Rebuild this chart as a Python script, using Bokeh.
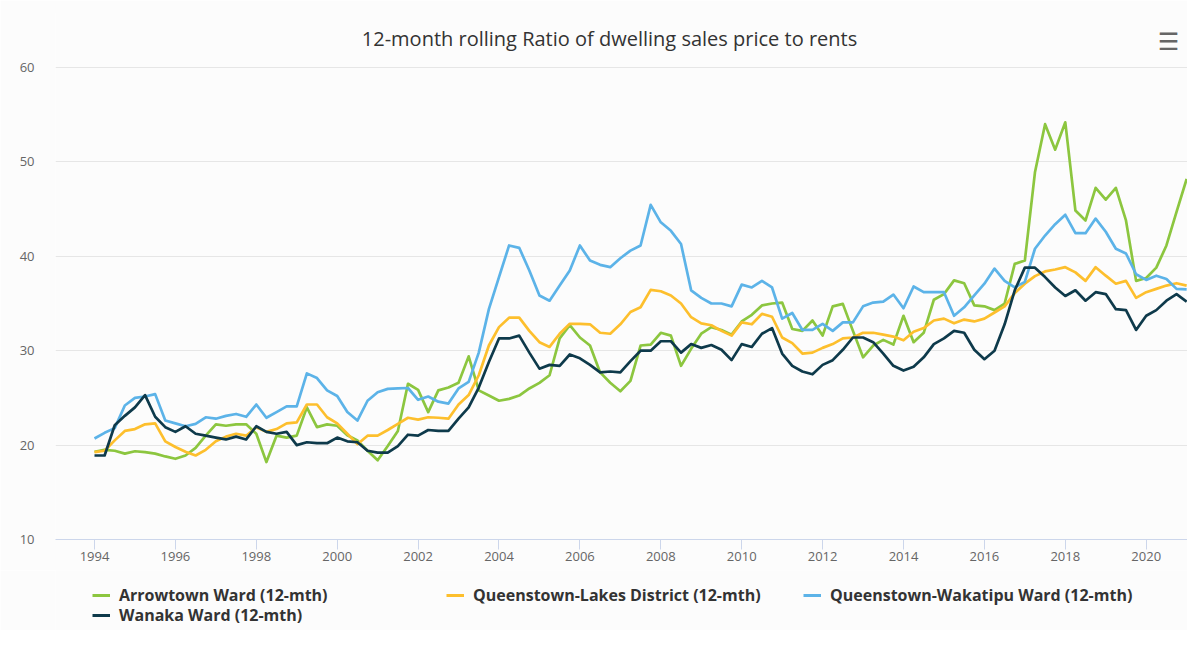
from bokeh.plotting import figure
from bokeh.layouts import column
from bokeh.models import Legend, LegendItem, FixedTicker, Range1d, Label
from bokeh.embed import file_html
from bokeh.resources import INLINE

# Quarterly observations, 1994 Q1 .. 2021 Q1
quarters = [1994 + q / 4 for q in range(109)]
tick_years = list(range(1994, 2021, 2))
y_ticks = [10, 20, 30, 40, 50, 60]

arrowtown = [19.3, 19.5, 19.4, 19.1, 19.35, 19.25, 19.1, 18.8, 18.55, 18.9,
             19.7, 21.0, 22.2, 22.05, 22.2, 22.2, 21.2, 18.2, 21.0, 20.8,
             21.0, 24.0, 21.9, 22.2, 22.05, 21.05, 20.5, 19.4, 18.4, 19.9,
             21.5, 26.5, 25.85, 23.5, 25.8, 26.1, 26.6, 29.4, 25.8, 25.25,
             24.7, 24.9, 25.25, 26.0, 26.6, 27.4, 31.3, 32.7, 31.4, 30.55,
             27.7, 26.6, 25.7, 26.8, 30.55, 30.65, 31.9, 31.6, 28.4, 30.2,
             31.8, 32.5, 32.2, 31.7, 33.1, 33.8, 34.8, 35.0, 35.1, 32.3,
             32.1, 33.2, 31.6, 34.7, 34.96, 32.1, 29.3, 30.55, 31.15, 30.65,
             33.7, 30.9, 31.9, 35.4, 36.0, 37.45, 37.15, 34.8, 34.7, 34.3,
             35.0, 39.2, 39.55, 48.9, 54.0, 51.3, 54.2, 44.85, 43.8, 47.25,
             46.0, 47.25, 43.8, 37.4, 37.7, 38.8, 41.15, 44.7, 48.2]

ql_district = [19.25, 19.4, 20.5, 21.5, 21.7, 22.2, 22.3, 20.4, 19.8, 19.3,
               18.9, 19.5, 20.4, 20.9, 21.2, 21.0, 21.9, 21.4, 21.7, 22.3,
               22.4, 24.3, 24.3, 22.95, 22.3, 21.2, 20.1, 21.0, 21.0, 21.6,
               22.25, 22.9, 22.7, 22.95, 22.9, 22.8, 24.3, 25.3, 27.4, 30.55,
               32.5, 33.5, 33.5, 32.1, 30.9, 30.4, 31.8, 32.85, 32.85, 32.8,
               31.9, 31.8, 32.8, 34.1, 34.6, 36.45, 36.3, 35.85, 35.0, 33.55,
               32.9, 32.7, 32.1, 31.6, 33.0, 32.8, 33.9, 33.6, 31.4, 30.8,
               29.7, 29.8, 30.3, 30.7, 31.3, 31.4, 31.9, 31.9, 31.7, 31.5,
               31.1, 32.0, 32.4, 33.2, 33.4, 32.9, 33.3, 33.1, 33.4, 34.05,
               34.7, 36.1, 37.1, 37.9, 38.4, 38.6, 38.85, 38.3, 37.4, 38.85,
               37.95, 37.1, 37.4, 35.6, 36.2, 36.55, 36.9, 37.15, 36.9]

wakatipu = [20.7, 21.3, 21.8, 24.2, 25.0, 25.15, 25.4, 22.6, 22.3, 22.0,
            22.25, 22.95, 22.8, 23.1, 23.3, 23.0, 24.3, 22.9, 23.5, 24.1,
            24.1, 27.6, 27.1, 25.8, 25.2, 23.5, 22.6, 24.7, 25.6, 25.96,
            26.0, 26.05, 24.8, 25.15, 24.6, 24.4, 26.0, 26.7, 29.8, 34.4,
            37.8, 41.15, 40.9, 38.5, 35.85, 35.3, 36.9, 38.5, 41.15, 39.55,
            39.1, 38.85, 39.8, 40.6, 41.15, 45.45, 43.6, 42.7, 41.3, 36.4,
            35.6, 35.0, 35.0, 34.7, 37.0, 36.7, 37.4, 36.7, 33.4, 34.0,
            32.2, 32.2, 32.85, 32.1, 33.0, 33.0, 34.7, 35.1, 35.2, 35.95,
            34.5, 36.8, 36.2, 36.2, 36.2, 33.7, 34.6, 35.85, 37.1, 38.7,
            37.4, 36.7, 37.3, 40.8, 42.2, 43.4, 44.4, 42.45, 42.45, 44.0,
            42.6, 40.8, 40.3, 38.1, 37.5, 37.95, 37.6, 36.55, 36.5]

wanaka = [18.9, 18.9, 22.1, 23.1, 24.0, 25.3, 23.0, 21.9, 21.4, 22.0,
          21.2, 21.0, 20.8, 20.6, 20.9, 20.6, 22.0, 21.4, 21.2, 21.4,
          20.0, 20.3, 20.2, 20.2, 20.8, 20.4, 20.3, 19.4, 19.2, 19.2,
          19.9, 21.1, 21.0, 21.6, 21.5, 21.5, 22.8, 24.0, 26.1, 28.8,
          31.3, 31.3, 31.6, 29.8, 28.1, 28.5, 28.4, 29.6, 29.2, 28.5,
          27.7, 27.8, 27.7, 28.9, 30.0, 30.0, 31.0, 31.0, 29.8, 30.7,
          30.3, 30.6, 30.1, 29.0, 30.7, 30.4, 31.8, 32.4, 29.7, 28.4,
          27.8, 27.5, 28.5, 29.0, 30.1, 31.4, 31.4, 30.9, 29.7, 28.4,
          27.9, 28.3, 29.3, 30.7, 31.3, 32.1, 31.9, 30.1, 29.1, 30.0,
          32.8, 36.4, 38.8, 38.8, 37.8, 36.7, 35.8, 36.4, 35.3, 36.2,
          36.0, 34.4, 34.3, 32.2, 33.7, 34.3, 35.3, 36.0, 35.2]

series_names = ["Arrowtown Ward (12-mth)", "Queenstown-Lakes District (12-mth)",
                "Queenstown-Wakatipu Ward (12-mth)", "Wanaka Ward (12-mth)"]
series_values = [arrowtown, ql_district, wakatipu, wanaka]
series_colors = ["#8cc63f", "#fdbf2d", "#5cb3e8", "#0e3a4b"]

BG = "#fcfcfc"
FONT = "Open Sans"

# main chart: frame x 55..1187, y 12..539 (screen); 60 gridline at y=67
p = figure(width=1187, height=570, output_backend="svg", toolbar_location=None,
           x_range=Range1d(1993.036, 2021.021), y_range=Range1d(10, 65.83),
           min_border_left=55, min_border_right=0, min_border_top=12,
           min_border_bottom=31, background_fill_color=BG, border_fill_color=BG)
p.outline_line_color = None

title = Label(x=554, y=501, x_units="screen", y_units="screen",
              text="12-month rolling Ratio of dwelling sales price to rents",
              text_font=FONT, text_font_size="20px", text_color="#333333",
              text_align="center", text_baseline="middle")
p.add_layout(title)
menu = Label(x=1113, y=498, x_units="screen", y_units="screen", text="\u2630",
             text_font="DejaVu Sans", text_font_size="24px",
             text_color="#666666", text_align="center", text_baseline="middle")
p.add_layout(menu)

xa = p.xaxis[0]
xa.ticker = FixedTicker(ticks=tick_years)
xa.axis_line_color = "#ccd6eb"
xa.major_tick_line_color = "#ccd6eb"
xa.major_tick_out = 10
xa.major_tick_in = 0
xa.minor_tick_line_color = None
xa.major_label_text_font = FONT
xa.major_label_text_font_size = "13px"
xa.major_label_text_color = "#666666"
xa.major_label_standoff = 2

ya = p.yaxis[0]
ya.ticker = FixedTicker(ticks=y_ticks)
ya.axis_line_color = None
ya.major_tick_line_color = None
ya.minor_tick_line_color = None
ya.major_tick_out = 0
ya.major_tick_in = 0
ya.major_label_text_font = FONT
ya.major_label_text_font_size = "13px"
ya.major_label_text_color = "#666666"
ya.major_label_standoff = 21

p.xgrid.grid_line_color = None
p.ygrid.grid_line_color = "#e6e6e6"
p.ygrid.ticker = FixedTicker(ticks=y_ticks)

for vals, col in zip(series_values, series_colors):
    p.line(quarters, vals, line_color=col, line_width=2.7, line_join="round")

# legend strip below the chart (series redrawn out of view, only the legend shows)
lp = figure(width=1187, height=60, output_backend="svg", toolbar_location=None,
            x_axis_location=None, y_axis_location=None,
            x_range=Range1d(0, 1), y_range=Range1d(0, 1),
            min_border_left=0, min_border_right=0, min_border_top=0,
            min_border_bottom=0, background_fill_color=BG, border_fill_color=BG)
lp.outline_line_color = None
lp.xgrid.grid_line_color = None
lp.ygrid.grid_line_color = None

legend_pos = [(37, 24), (391, 24), (748, 24), (37, 4)]
for name, vals, col, (lx, ly) in zip(series_names, series_values, series_colors, legend_pos):
    r = lp.line(quarters, vals, line_color=col, line_width=3)
    lg = Legend(items=[LegendItem(label=name, renderers=[r])], location=(lx, ly),
                orientation="horizontal", padding=0, margin=0, spacing=0,
                border_line_color=None, background_fill_alpha=0,
                glyph_width=18, glyph_height=14, label_standoff=9,
                label_height=14,
                label_text_font=FONT, label_text_font_size="16px",
                label_text_font_style="bold", label_text_color="#333333")
    lp.add_layout(lg, "center")

open("out.html", "w").write(file_html(column(p, lp, spacing=0), INLINE))
